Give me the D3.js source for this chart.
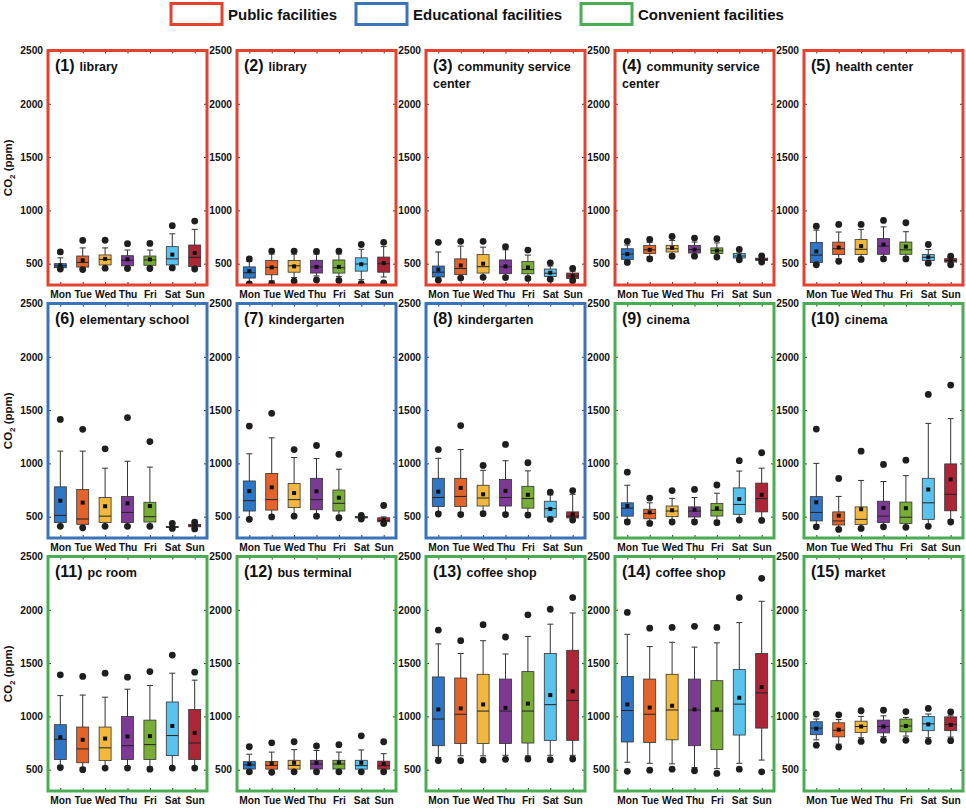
<!DOCTYPE html>
<html><head><meta charset="utf-8">
<script src="https://cdn.jsdelivr.net/npm/d3@7"></script>
<style>
body{margin:0;background:#fff}
text{font-family:Arial,"Liberation Sans",sans-serif;font-weight:bold;fill:#111}
</style>
</head><body>
<svg id="c" width="966" height="808"></svg>
<script>
// ---------- data ----------
const days = ["Mon","Tue","Wed","Thu","Fri","Sat","Sun"];
const dayColors = ["#2f77c6","#e3642b","#f2b73f","#7c3a94","#78ad37","#59c2ef","#ac2637"];
const yTicks = [500,1000,1500,2000,2500];
const yDomain = [300,2500];
const groups = ["Public facilities","Educational facilities","Convenient facilities"];
const groupColors = ["#e4412e","#3a73b7","#4aad53"];
const panelNums = ["(1)","(2)","(3)","(4)","(5)","(6)","(7)","(8)","(9)","(10)","(11)","(12)","(13)","(14)","(15)"];
const panelNames = [["library"],["library"],["community service","center"],["community service","center"],["health center"],
  ["elementary school"],["kindergarten"],["kindergarten"],["cinema"],["cinema"],
  ["pc room"],["bus terminal"],["coffee shop"],["coffee shop"],["market"]];
const panelGroup = [0,0,0,0,0,1,1,1,2,2,2,2,2,2,2];

// each row: [low dot, low whisker, Q1, median, Q3, high whisker, high dot, mean]
const p01 = [[450,455,462,480,500,555,610,485],[445,455,468,512,572,648,718,532],[458,470,488,540,582,648,720,545],
  [455,465,480,532,575,628,688,540],[455,465,485,535,572,628,690,540],[460,470,488,545,660,780,857,585],[450,465,472,560,675,822,900,600]];
const p02 = [[310,320,365,415,470,520,545,430],[312,340,396,465,530,590,618,465],[337,370,420,480,530,590,618,475],
  [348,385,412,470,532,590,615,470],[343,380,412,462,535,590,618,470],[312,350,430,497,555,635,680,495],[320,375,420,500,562,660,700,505]];
const p03 = [[345,355,375,420,478,610,700,445],[365,375,397,455,545,665,710,483],[372,385,412,472,585,655,710,500],
  [370,385,406,470,535,630,660,475],[362,380,405,445,520,580,628,465],[355,365,380,410,450,478,508,415],[340,350,360,385,412,430,455,385]];
const p04 = [[512,525,540,590,640,675,710,590],[545,565,595,630,672,700,728,630],[570,590,610,640,672,718,755,648],
  [570,585,600,633,672,703,740,632],[562,575,595,622,648,695,735,622],[537,545,553,572,595,610,635,572],[515,522,530,540,552,560,572,540]];
const p05 = [[490,500,510,580,700,815,852,615],[522,545,585,640,702,797,868,652],[540,560,585,635,728,822,868,665],
  [545,565,588,665,735,845,906,680],[545,565,588,630,703,800,884,660],[505,515,530,560,585,632,680,560],[490,505,515,530,547,555,570,530]];
const p06 = [[410,420,445,512,780,1115,1412,650],[395,410,428,478,755,1115,1320,632],[410,420,445,505,680,955,1137,598],
  [410,420,445,540,690,1020,1430,625],[410,420,450,500,635,965,1205,600],[390,395,398,402,408,420,438,403],[385,395,405,415,428,440,448,415]];
const p07 = [[475,490,553,650,835,1090,1350,740],[498,510,562,660,906,1240,1470,775],[505,520,585,660,812,1055,1130,722],
  [505,520,565,660,860,1045,1168,738],[490,505,553,625,750,945,1085,678],[478,482,488,495,502,508,512,496],[435,448,452,465,490,498,605,470]];
const p08 = [[525,540,595,680,860,1048,1130,735],[520,540,595,690,860,1130,1355,770],[528,545,600,675,795,935,980,710],
  [520,540,600,680,850,1025,1178,742],[515,535,580,670,785,930,1006,705],[475,485,495,575,645,705,730,572],[468,478,488,505,545,710,745,522]];
const p09 = [[450,470,505,580,630,795,918,600],[437,455,480,530,570,630,675,540],[450,470,500,553,600,672,745,560],
  [450,470,497,553,592,680,756,565],[444,465,506,560,625,720,797,578],[468,480,522,615,770,928,1025,665],[465,475,545,670,815,955,1100,705]];
const p10 = [[405,420,460,540,688,1000,1322,635],[380,395,422,460,545,690,858,510],[390,400,428,475,592,840,1115,570],
  [405,420,445,505,645,830,990,582],[400,415,437,495,637,885,1030,580],[410,420,475,630,860,1375,1647,755],[450,470,555,710,995,1420,1735,850]];
const p11 = [[520,540,595,785,922,1195,1390,805],[500,520,565,695,900,1200,1375,780],[515,530,585,705,900,1180,1405,792],
  [515,530,595,725,1000,1255,1368,812],[505,525,595,735,965,1290,1420,815],[515,530,632,820,1135,1405,1575,910],[515,530,595,750,1065,1340,1415,845]];
const p12 = [[480,490,506,545,575,645,715,552],[475,488,505,540,578,665,752,558],[480,490,505,540,588,688,762,565],
  [480,490,506,553,588,680,722,565],[480,490,506,553,588,665,735,568],[480,490,505,538,588,685,818,565],[480,490,505,538,580,650,762,555]];
const p13 = [[584,615,725,975,1370,1680,1810,1065],[584,630,745,1020,1360,1590,1710,1075],[590,630,745,1050,1395,1710,1860,1112],
  [597,635,745,1050,1350,1585,1745,1080],[600,630,750,1050,1420,1750,1953,1120],[594,635,775,1110,1590,1865,2005,1200],[600,635,775,1150,1620,1970,2115,1235]];
const p14 = [[485,570,760,1055,1375,1770,1975,1112],[495,560,755,1020,1350,1655,1828,1083],[505,555,780,1060,1395,1695,1835,1100],
  [490,520,725,1060,1350,1650,1845,1065],[465,510,688,1050,1335,1690,1835,1065],[505,560,825,1115,1440,1880,2115,1175],[480,590,890,1220,1590,2080,2295,1275]];
const p15 = [[730,780,828,890,950,975,1022,885],[712,740,808,870,940,970,1015,875],[765,800,848,905,955,1000,1053,905],
  [775,810,845,905,965,1005,1058,905],[775,815,855,910,975,990,1045,910],[765,800,866,930,1000,1022,1075,925],[772,806,866,925,995,1005,1042,920]];
const panelStats = [p01,p02,p03,p04,p05,p06,p07,p08,p09,p10,p11,p12,p13,p14,p15];

// ---------- drawing ----------
const svg = d3.select("#c");
const defs = svg.append("defs");
const FONT = "Arial,'Liberation Sans',sans-serif";

// legend
const legX = [171,356,581];
groups.forEach((name,i)=>{
  svg.append("rect").attr("x",legX[i]).attr("y",3.5).attr("width",51).attr("height",21)
    .attr("fill","#fff").attr("stroke",groupColors[i]).attr("stroke-width",3);
  svg.append("text").attr("x",legX[i]+57).attr("y",19.5).attr("font-size",15).text(name);
});

const PW = 159, boxW = 12, capW = 6;
panelStats.forEach((stats,i)=>{
  const col = i%5, row = Math.floor(i/5);
  const L = 48 + col*189, T = 50.5 + row*253, B = 285 + row*253;
  const x = d3.scalePoint().domain(days).range([L, L+PW]).padding(0.55);
  const y = d3.scaleLinear().domain(yDomain).range([B, T]);
  const g = svg.append("g");

  defs.append("clipPath").attr("id","cp"+i).append("rect")
    .attr("x",L).attr("y",T).attr("width",PW).attr("height",B-T);

  // axes
  const ax = (sel)=>{ sel.select(".domain").remove(); sel.selectAll("line").attr("stroke","#333"); };
  const styleText = (sel)=>sel.selectAll("text").attr("font-size",10.2).attr("font-family",FONT)
      .attr("font-weight","bold").attr("fill","#111");
  g.append("g").attr("transform",`translate(${L},0)`)
    .call(d3.axisLeft(y).tickValues(yTicks).tickFormat(d3.format("d")).tickSize(-3).tickPadding(5))
    .call(ax).call(styleText);
  g.append("g").attr("transform",`translate(${L+PW},0)`)
    .call(d3.axisRight(y).tickValues(yTicks).tickSize(-3).tickFormat(""))
    .call(ax);
  g.append("g").attr("transform",`translate(0,${B})`)
    .call(d3.axisBottom(x).tickSize(-3).tickPadding(6))
    .call(ax).call(styleText);
  g.append("g").attr("transform",`translate(0,${T})`)
    .call(d3.axisTop(x).tickSize(-3).tickFormat(""))
    .call(ax);

  // boxes
  const m = g.append("g").attr("clip-path",`url(#cp${i})`);
  stats.forEach((s,j)=>{
    const cx = x(days[j]);
    m.append("line").attr("x1",cx).attr("x2",cx).attr("y1",y(s[1])).attr("y2",y(s[5]))
      .attr("stroke","#333").attr("stroke-width",1);
    [s[1],s[5]].forEach(v=>m.append("line").attr("x1",cx-capW/2).attr("x2",cx+capW/2)
      .attr("y1",y(v)).attr("y2",y(v)).attr("stroke","#333").attr("stroke-width",1));
    m.append("rect").attr("x",cx-boxW/2).attr("width",boxW)
      .attr("y",y(s[4])).attr("height",Math.max(1,y(s[2])-y(s[4])))
      .attr("fill",dayColors[j]).attr("stroke","#333").attr("stroke-width",0.8);
    m.append("line").attr("x1",cx-boxW/2).attr("x2",cx+boxW/2)
      .attr("y1",y(s[3])).attr("y2",y(s[3])).attr("stroke","#222").attr("stroke-width",1);
    m.append("rect").attr("x",cx-2).attr("y",y(s[7])-2).attr("width",4).attr("height",4).attr("fill","#111");
    [s[0],s[6]].forEach(v=>m.append("circle").attr("cx",cx).attr("cy",y(v)).attr("r",3.4).attr("fill","#1e1e1e"));
  });

  // frame
  g.append("rect").attr("x",L).attr("y",T).attr("width",PW).attr("height",B-T)
    .attr("fill","none").attr("stroke",groupColors[panelGroup[i]]).attr("stroke-width",3);

  // title
  const t = g.append("text").attr("x",L+7).attr("y",T+20);
  t.append("tspan").attr("font-size",16).text(panelNums[i]);
  t.append("tspan").attr("font-size",12.5).attr("dx",5).text(panelNames[i][0]);
  if (panelNames[i][1]) {
    g.append("text").attr("x",L+7).attr("y",T+37).attr("font-size",12.5).text(panelNames[i][1]);
  }

  // y label
  if (col===0) {
    const yl = g.append("text").attr("transform",`translate(12,${(T+B)/2}) rotate(-90)`)
      .attr("text-anchor","middle").attr("font-size",11.5);
    yl.append("tspan").text("CO");
    yl.append("tspan").attr("font-size",8).attr("dy",3).text("2");
    yl.append("tspan").attr("dy",-3).text(" (ppm)");
  }
});
</script>
</body></html>
